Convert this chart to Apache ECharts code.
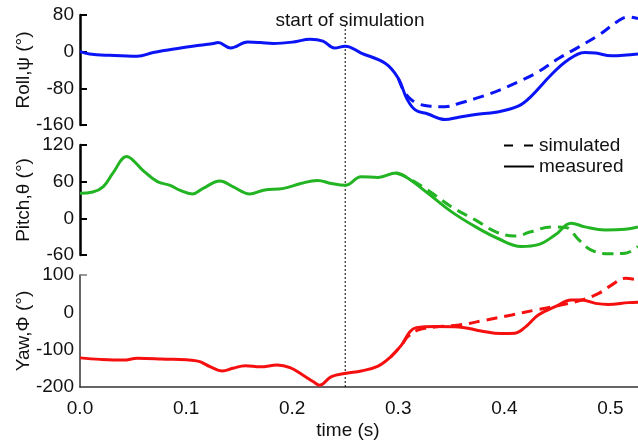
<!DOCTYPE html>
<html>
<head>
<meta charset="utf-8">
<style>
  html, body { margin: 0; padding: 0; background: #fff; }
  #chart { width: 638px; height: 440px; }
</style>
<script src="https://cdn.jsdelivr.net/npm/echarts@6/dist/echarts.min.js"></script>
</head>
<body>
<div id="chart"></div>
<script>
// time axis (s)
const xTicks = [0.0, 0.1, 0.2, 0.3, 0.4, 0.5];
const simStart = 0.25;

// roll
const rollMeasuredT = [0, 0.009, 0.028, 0.054, 0.069, 0.092, 0.113, 0.126, 0.130, 0.142, 0.158, 0.170, 0.182, 0.201, 0.217, 0.229, 0.240, 0.250, 0.265, 0.288, 0.300, 0.308, 0.316, 0.328, 0.344, 0.357, 0.373, 0.392, 0.413, 0.425, 0.444, 0.460, 0.476, 0.486, 0.501, 0.526];
const rollMeasured = [0, -5, -8, -10, -2, 7, 14, 18, 20, 8, 21, 20, 18, 21, 27, 23, 8, 12, -3, -26, -58, -102, -127, -136, -148, -143, -137, -132, -119, -98, -51, -18, -2, -3, -9, -5];
const rollSimT = [0.300, 0.305, 0.310, 0.318, 0.330, 0.344, 0.357, 0.373, 0.392, 0.413, 0.432, 0.451, 0.470, 0.489, 0.508, 0.517, 0.526];
const rollSim = [-58, -85, -100, -113, -119, -120, -113, -102, -87, -66, -44, -15, 10, 36, 68, 76, 72];

// pitch
const pitchMeasuredT = [0, 0.012, 0.022, 0.031, 0.044, 0.050, 0.059, 0.073, 0.085, 0.094, 0.106, 0.116, 0.132, 0.144, 0.160, 0.173, 0.192, 0.208, 0.224, 0.237, 0.250, 0.265, 0.281, 0.298, 0.307, 0.328, 0.350, 0.373, 0.394, 0.416, 0.432, 0.448, 0.463, 0.476, 0.495, 0.514, 0.526];
const pitchMeasured = [41, 43, 52, 74, 101, 95, 79, 60, 54, 46, 40, 49, 61, 52, 40, 46, 49, 57, 62, 57, 54, 68, 67, 74, 68, 41, 11, -14, -33, -46, -43, -27, -8, -14, -19, -18, -14];
const pitchSimT = [0.298, 0.307, 0.328, 0.350, 0.373, 0.392, 0.410, 0.425, 0.444, 0.458, 0.470, 0.482, 0.498, 0.514, 0.526];
const pitchSim = [74, 68, 46, 19, -3, -22, -29, -22, -14, -15, -35, -52, -58, -57, -46];

// yaw
const yawMeasuredT = [0, 0.019, 0.041, 0.054, 0.076, 0.110, 0.123, 0.134, 0.144, 0.156, 0.170, 0.186, 0.198, 0.210, 0.220, 0.226, 0.237, 0.251, 0.265, 0.281, 0.293, 0.303, 0.311, 0.317, 0.335, 0.357, 0.378, 0.397, 0.410, 0.420, 0.432, 0.448, 0.463, 0.473, 0.486, 0.498, 0.517, 0.526];
const yawMeasured = [-122, -126, -128, -123, -125, -130, -146, -157, -150, -143, -146, -141, -148, -168, -186, -195, -172, -163, -157, -144, -119, -88, -52, -41, -38, -39, -50, -57, -56, -39, -7, 15, 33, 33, 24, 21, 26, 27];
const yawSimT = [0.293, 0.303, 0.309, 0.319, 0.335, 0.357, 0.382, 0.407, 0.429, 0.451, 0.473, 0.489, 0.501, 0.514, 0.526];
const yawSim = [-119, -88, -65, -47, -39, -34, -21, -7, 6, 18, 33, 51, 73, 91, 87];

const FONT = "'Liberation Sans', Arial, Helvetica, sans-serif";
const BLUE = "#0a14f5";
const GREEN = "#22b422";
const RED = "#f50f0f";

function pairs(ts, vs) {
  return ts.map(function (t, i) { return [t, vs[i]]; });
}

function xAxisFor(gridIndex, visible) {
  return {
    type: "value",
    gridIndex: gridIndex,
    min: 0,
    max: 0.526,
    interval: 0.1,
    show: visible,
    axisLine: { show: visible, onZero: false, lineStyle: { color: "#333", width: 1.5 } },
    axisTick: { show: false },
    splitLine: { show: false },
    axisLabel: {
      show: visible,
      color: "#111",
      fontFamily: FONT,
      fontSize: 19,
      margin: 12,
      customValues: xTicks,
      formatter: function (v) { return v.toFixed(1); },
    },
  };
}

function yAxisFor(gridIndex, name, min, max, interval, heavy) {
  return {
    type: "value",
    gridIndex: gridIndex,
    min: min,
    max: max,
    interval: interval,
    name: name,
    nameLocation: "middle",
    nameGap: 47,
    nameMoveOverlap: false,
    nameTextStyle: { color: "#111", fontFamily: FONT, fontSize: 19 },
    axisLine: { show: true, lineStyle: { color: heavy ? "#000" : "#333", width: heavy ? 2.5 : 1.5 } },
    axisTick: heavy
      ? { show: true, inside: true, length: 7, lineStyle: { color: "#000", width: 2 } }
      : { show: true, inside: true, length: 7, customValues: [max], lineStyle: { color: "#777", width: 1.5 } },
    splitLine: { show: false },
    axisLabel: { color: "#111", fontFamily: FONT, fontSize: 19, margin: 6 },
  };
}

function lineSeries(gridIndex, data, color, dashed) {
  return {
    type: "line",
    xAxisIndex: gridIndex,
    yAxisIndex: gridIndex,
    data: data,
    smooth: 0.4,
    symbol: "none",
    silent: true,
    lineStyle: { color: color, width: 3, type: dashed ? [11, 7] : "solid" },
    z: dashed ? 3 : 4,
  };
}

const chart = echarts.init(document.getElementById("chart"));

chart.setOption({
  animation: false,
  backgroundColor: "#fff",
  textStyle: { fontFamily: FONT },
  grid: [
    { left: 80, right: 0, top: 15, height: 110 },
    { left: 80, right: 0, top: 145, height: 110 },
    { left: 80, right: 0, top: 275, height: 112 },
    { left: 80, right: 0, top: 25, height: 362 },
  ],
  xAxis: [xAxisFor(0, false), xAxisFor(1, false), xAxisFor(2, true), xAxisFor(3, false)],
  yAxis: [
    yAxisFor(0, "Roll,\u03c8 (\u00b0)", -160, 80, 80, true),
    yAxisFor(1, "Pitch,\u03b8 (\u00b0)", -60, 120, 60, true),
    yAxisFor(2, "Yaw,\u03a6 (\u00b0)", -200, 100, 100, false),
    { type: "value", gridIndex: 3, min: 0, max: 1, show: false },
  ],
  legend: {
    orient: "vertical",
    left: 503,
    top: 136,
    padding: 0,
    itemGap: 2,
    itemWidth: 30,
    itemHeight: 14,
    itemStyle: { opacity: 0 },
    data: ["simulated", "measured"],
    textStyle: { color: "#111", fontFamily: FONT, fontSize: 19 },
  },
  graphic: [
    {
      type: "text",
      x: 350,
      y: 21,
      style: { text: "start of simulation", fill: "#111", font: "19px " + FONT, textAlign: "center", textVerticalAlign: "middle" },
    },
    {
      type: "text",
      x: 348,
      y: 431,
      style: { text: "time (s)", fill: "#111", font: "19px " + FONT, textAlign: "center", textVerticalAlign: "middle" },
    },
  ],
  series: [
    lineSeries(0, pairs(rollSimT, rollSim), BLUE, true),
    lineSeries(0, pairs(rollMeasuredT, rollMeasured), BLUE, false),
    lineSeries(1, pairs(pitchSimT, pitchSim), GREEN, true),
    lineSeries(1, pairs(pitchMeasuredT, pitchMeasured), GREEN, false),
    lineSeries(2, pairs(yawSimT, yawSim), RED, true),
    lineSeries(2, pairs(yawMeasuredT, yawMeasured), RED, false),
    {
      type: "line",
      xAxisIndex: 3,
      yAxisIndex: 3,
      data: [[simStart, 0], [simStart, 1]],
      symbol: "none",
      silent: true,
      lineStyle: { color: "#000", width: 1, type: [2, 2] },
      z: 1,
    },
    // legend-only entries
    { name: "simulated", type: "line", xAxisIndex: 0, yAxisIndex: 0, data: [], symbol: "none", color: "#000", lineStyle: { color: "#000", width: 3, type: [9, 11] } },
    { name: "measured", type: "line", xAxisIndex: 0, yAxisIndex: 0, data: [], symbol: "none", color: "#000", lineStyle: { color: "#000", width: 3 } },
  ],
});
</script>
</body>
</html>
